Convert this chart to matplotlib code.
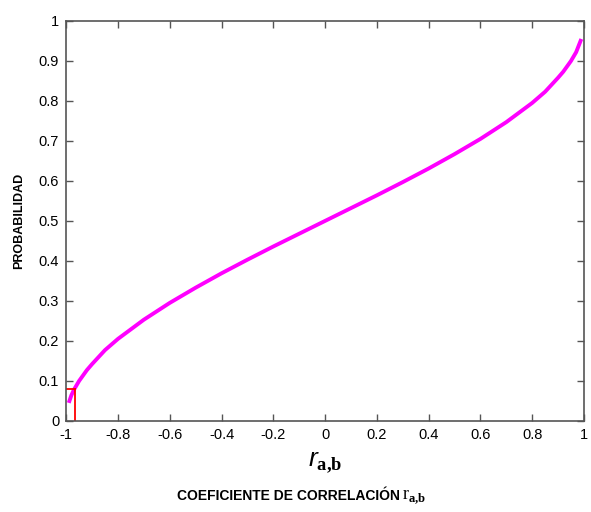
import matplotlib
matplotlib.use("Agg")
import matplotlib.pyplot as plt

# valores (aprox.)
r_vals = [-0.99, -0.98, -0.97, -0.95, -0.92, -0.9, -0.85, -0.8, -0.7, -0.6, -0.5, -0.4, -0.3,
          -0.2, -0.1, 0.0, 0.1, 0.2, 0.3, 0.4, 0.5, 0.6, 0.7, 0.8, 0.85, 0.9, 0.92,
          0.95, 0.97, 0.99]
prob_vals = [0.045, 0.064, 0.078, 0.10, 0.127, 0.142, 0.177, 0.205, 0.253, 0.295, 0.333,
             0.369, 0.403, 0.436, 0.468, 0.50, 0.532, 0.564, 0.597, 0.631, 0.667, 0.705,
             0.747, 0.795, 0.823, 0.858, 0.873, 0.90, 0.922, 0.955]

# punto marcado en rojo
r_mark = -0.965
p_mark = 0.08

xticks = [-1, -0.8, -0.6, -0.4, -0.2, 0, 0.2, 0.4, 0.6, 0.8, 1]
yticks = [0, 0.1, 0.2, 0.3, 0.4, 0.5, 0.6, 0.7, 0.8, 0.9, 1]

plt.rcParams['font.family'] = ['Liberation Sans', 'DejaVu Sans']
plt.rcParams['mathtext.fontset'] = 'custom'
plt.rcParams['mathtext.rm'] = 'Liberation Serif'
plt.rcParams['mathtext.it'] = 'Liberation Sans:italic'
plt.rcParams['mathtext.bf'] = 'Liberation Serif:bold'

fig = plt.figure(figsize=(5.91, 5.12), dpi=100)
ax = fig.add_axes([0.112, 0.178, 0.876, 0.781])

ax.plot(r_vals, prob_vals, color='#ff00ff', lw=2.8, solid_capstyle='butt',
        solid_joinstyle='round')
ax.plot([r_mark, r_mark], [0, p_mark], color='red', lw=1.3)
ax.plot([-1, r_mark], [p_mark, p_mark], color='red', lw=1.3)

ax.set_xlim(-1, 1)
ax.set_ylim(0, 1)
ax.set_xticks(xticks)
ax.set_yticks(yticks)
ax.set_xticklabels([('%g' % t) for t in xticks])
ax.set_yticklabels([('%g' % t) for t in yticks])
ax.tick_params(direction='in', top=True, right=True, length=5, width=1,
               color='#555555', labelsize=10.5, pad=5)
for s in ax.spines.values():
    s.set_color('#555555')
    s.set_linewidth(1.2)

ax.set_xlabel(r'$\mathit{r}_{\mathbf{a{,}b}}$', fontsize=19, labelpad=6)
ax.set_ylabel('PROBABILIDAD', fontsize=9, fontweight='bold', labelpad=10)

fig.text(0.677, 0.031, 'COEFICIENTE DE CORRELACIÓN',
         ha='right', va='center', fontsize=10, fontweight='bold')
fig.text(0.681, 0.029, r'$\mathrm{r}_{\mathbf{a{,}b}}$',
         ha='left', va='center', fontsize=13)

fig.savefig('out.png', dpi=100)
